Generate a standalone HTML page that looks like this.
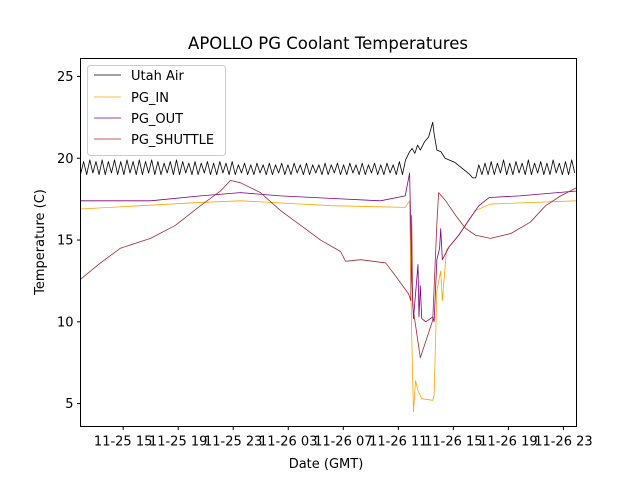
<!DOCTYPE html>
<html><head><meta charset="utf-8"><style>
body{margin:0;background:#fff}
svg{font-family:"DejaVu Sans","Liberation Sans",sans-serif}
</style></head><body>
<svg id="chart" width="640" height="480" xmlns="http://www.w3.org/2000/svg">
<rect width="640" height="480" fill="#fff"/>
<text x="328" y="49" font-size="16.5" text-anchor="middle">APOLLO PG Coolant Temperatures</text>
<g id="plot"></g>
<g id="xticks"></g>
<g id="yticks"></g>
<rect x="80.5" y="58.5" width="496" height="368" fill="none" stroke="#000" stroke-width="1"/>
<text x="326" y="468" font-size="13" text-anchor="middle">Date (GMT)</text>
<text transform="translate(44,242) rotate(-90)" font-size="13" text-anchor="middle">Temperature (C)</text>
<g>
<rect x="87.5" y="65.5" width="138" height="90" rx="3" fill="#fff" fill-opacity="0.8" stroke="#ccc"/>
<g><line x1="94" y1="75" x2="121" y2="75" stroke="#000" stroke-width="0.8"/><text x="131" y="80" font-size="13">Utah Air</text></g>
<g><line x1="94" y1="97" x2="121" y2="97" stroke="#ffa500" stroke-width="0.8"/><text x="131" y="102" font-size="13">PG_IN</text></g>
<g><line x1="94" y1="118" x2="121" y2="118" stroke="#800080" stroke-width="0.8"/><text x="131" y="123" font-size="13">PG_OUT</text></g>
<g><line x1="94" y1="139" x2="121" y2="139" stroke="#a52a2a" stroke-width="0.8"/><text x="131" y="144" font-size="13">PG_SHUTTLE</text></g>
</g>
</svg>
<script>
// x in hours since 11-25 00:00
const xTickHours=[15,19,23,27,31,35,39,43,47];
const xTickLabels=["11-25 15","11-25 19","11-25 23","11-26 03","11-26 07","11-26 11","11-26 15","11-26 19","11-26 23"];
const yTicks=[5,10,15,20,25];
const shuttleT=[11.9,13.35,14.8,16.99,18.8,20.62,22.08,22.8,23.53,24.98,26.44,27.9,29.35,30.8,31.17,32.26,34.08,34.8,35.75,35.9,35.97,36.04,36.6,37.5,37.8,37.93,38.44,39.17,39.9,40.6,41.7,43.18,44.6,45.7,46.8,47.95];
const shuttleV=[12.6,13.6,14.5,15.1,15.9,17.1,18.0,18.65,18.5,17.9,16.8,15.9,15.0,14.3,13.7,13.8,13.6,12.8,11.7,11.3,16.5,11.0,7.8,10.1,16.0,17.9,17.4,16.5,15.7,15.3,15.1,15.4,16.1,17.1,17.7,18.2];
const outT=[11.9,16.99,20.62,23.53,26.44,30.1,33.7,35.5,35.82,35.97,36.1,36.43,36.5,36.6,36.7,37.0,37.5,37.6,37.8,38.0,38.08,38.2,38.7,39.4,40.1,40.85,41.6,43.8,47.95];
const outV=[17.4,17.4,17.7,17.9,17.7,17.55,17.4,17.7,19.1,13.0,10.2,13.5,10.3,12.2,10.2,10.0,10.3,10.0,13.8,14.5,15.7,13.8,14.6,15.3,16.2,17.1,17.6,17.7,18.0];
const inT=[11.9,20.62,23.53,30.1,35.5,35.82,35.97,36.1,36.25,36.43,36.7,37.5,37.6,37.8,38.08,38.2,38.5,39.2,39.9,40.6,41.7,47.95];
const inV=[16.9,17.3,17.4,17.1,17.0,17.4,9.2,4.5,6.4,5.8,5.3,5.2,5.5,11.9,13.1,11.3,14.4,15.1,15.9,16.8,17.2,17.4];
const airStep=0.225;
const airLeftStart=11.9;
const airLeftV=[19.0,19.8,19.0,19.9,19.1,19.8,19.0,19.9,19.0,19.8,19.1,19.9,19.0,19.8,19.0,19.9,19.1,19.8,19.0,19.9,19.0,19.8,19.1,19.9,19.0,19.8,19.0,19.7,19.1,19.8,19.0,19.9,19.0,19.8,19.1,19.7,19.0,19.8,19.0,19.7,19.1,19.8,19.0,19.7,19.0,19.8,19.1,19.7,19.0,19.8,19.0,19.6,19.1,19.7,19.0,19.6,19.0,19.7,19.1,19.6,19.0,19.7,19.0,19.6,19.1,19.7,19.0,19.6,19.0,19.7,19.1,19.6,19.0,19.7,19.0,19.6,19.1,19.6,19.0,19.7,19.0,19.6,19.1,19.7,19.0,19.6,19.0,19.7,19.1,19.6,19.0,19.7,19.0,19.6,19.1,19.7,19.0,19.6,19.0,19.7,19.1,19.6,19.0,19.8,19.0,19.9];
const airMidT=[35.82,36.0,36.2,36.4,36.6,36.9,37.2,37.5,37.6,37.8,38.1,38.4,39.1,40.2,40.4];
const airMidV=[20.4,20.6,20.3,20.8,20.5,21.0,21.3,22.2,21.5,20.5,20.4,20.0,19.75,19.0,18.8];
const airRightStart=40.4;
const airRightV=[18.8,19.6,19.0,19.7,19.0,19.8,19.0,19.7,19.1,19.9,19.0,19.7,19.0,19.8,19.1,19.7,19.0,19.9,19.0,19.7,19.1,19.8,19.0,19.7,19.0,19.9,19.1,19.7,19.0,19.8,19.0,19.9,19.1,19.6];

const X0=80.5,X1=576.5,Y0=58.5,Y1=426.5,H0=11.9,H1=47.95,V0=3.6,V1=26.1;
const xs=h=>X0+(h-H0)/(H1-H0)*(X1-X0);
const ys=v=>Y1-(v-V0)/(V1-V0)*(Y1-Y0);
const NS='http://www.w3.org/2000/svg';
const plot=document.getElementById('plot');
function line(T,V,color,name,w){
  const p=document.createElementNS(NS,'path');
  p.setAttribute('d',T.map((t,i)=>(i?'L':'M')+xs(t).toFixed(2)+','+ys(V[i]).toFixed(2)).join(''));
  p.setAttribute('fill','none');p.setAttribute('stroke',color);p.setAttribute('stroke-width',w);
  p.setAttribute('stroke-linejoin','round');
  
  
  plot.appendChild(p);
}
const airT=[],airV=[];
airLeftV.forEach((v,i)=>{airT.push(airLeftStart+i*airStep);airV.push(v);});
airMidT.forEach((t,i)=>{airT.push(t);airV.push(airMidV[i]);});
airRightV.forEach((v,i)=>{const t=airRightStart+(i+1)*airStep;if(t<=H1){airT.push(t);airV.push(v);}});
line(airT,airV,'#000','series-utah-air',0.8);
line(inT,inV,'#ffa500','series-pg-in',0.8);
line(outT,outV,'#800080','series-pg-out',0.8);
line(shuttleT,shuttleV,'#a52a2a','series-pg-shuttle',0.8);

const xg=document.getElementById('xticks');
xTickHours.forEach((h,i)=>{
  const x=xs(h);
  const l=document.createElementNS(NS,'line');
  l.setAttribute('x1',x);l.setAttribute('x2',x);l.setAttribute('y1',Y1);l.setAttribute('y2',Y1+3.5);l.setAttribute('stroke','#000');
  
  
  xg.appendChild(l);
  const t=document.createElementNS(NS,'text');
  t.setAttribute('x',x);t.setAttribute('y',Y1+19);t.setAttribute('font-size','13');t.setAttribute('text-anchor','middle');
  t.textContent=xTickLabels[i];
  
  
  xg.appendChild(t);
});
const yg=document.getElementById('yticks');
yTicks.forEach(v=>{
  const y=ys(v);
  const l=document.createElementNS(NS,'line');
  l.setAttribute('x1',X0-3.5);l.setAttribute('x2',X0);l.setAttribute('y1',y);l.setAttribute('y2',y);l.setAttribute('stroke','#000');
  
  
  yg.appendChild(l);
  const t=document.createElementNS(NS,'text');
  t.setAttribute('x',X0-7);t.setAttribute('y',y+4.5);t.setAttribute('font-size','13');t.setAttribute('text-anchor','end');
  t.textContent=v;
  
  
  yg.appendChild(t);
});
</script>
</body></html>
